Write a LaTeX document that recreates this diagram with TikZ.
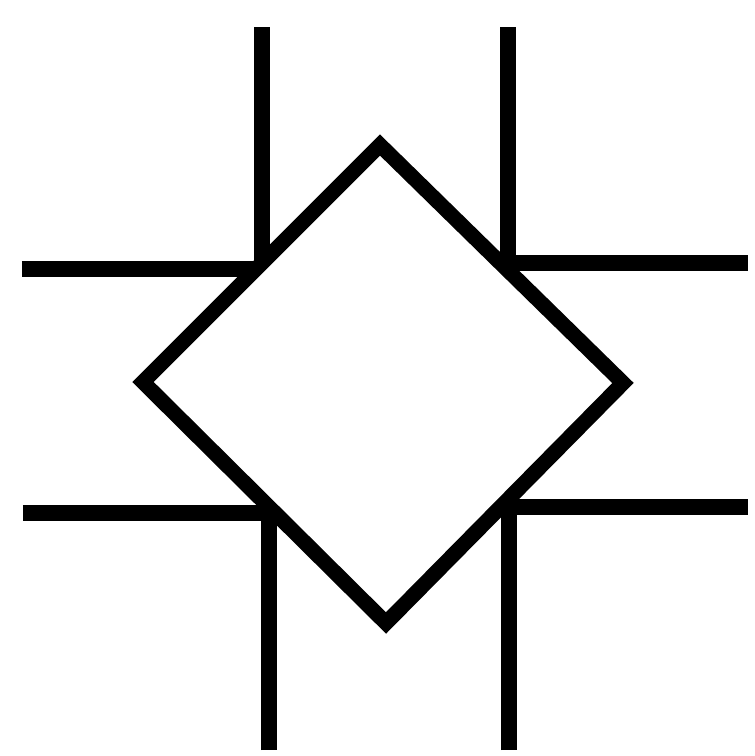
\documentclass[tikz,border=0pt]{standalone}
\usetikzlibrary{calc}
\begin{document}
\begin{tikzpicture}[x=0.01cm,y=-0.01cm, line width=4.3pt, line join=miter]
			\useasboundingbox (0,0) rectangle (755,756);
			% diamond corners
			\coordinate (T) at (380,145);
			\coordinate (R) at (623,383);
			\coordinate (B) at (386,623);
			\coordinate (L) at (143,382);
			% free ends of the leads
			\coordinate (a1) at (262,27);  \coordinate (a2) at (262,263);
			\coordinate (b1) at (22,269);  \coordinate (b2) at (256,269);
			\coordinate (c1) at (508,27);  \coordinate (c2) at (508,270);
			\coordinate (d1) at (748,263); \coordinate (d2) at (500,263);
			\coordinate (e1) at (23,513);  \coordinate (e2) at (275,513);
			\coordinate (f1) at (269,750); \coordinate (f2) at (269,507);
			\coordinate (g1) at (748,507); \coordinate (g2) at (501,507);
			\coordinate (h1) at (509,750); \coordinate (h2) at (509,499);
			\foreach \p in {a,b,c,d,e,f,g,h}{
				\draw (\p1)--(\p2);}
			\draw (T)--(R)--(B)--(L)--cycle;
		\end{tikzpicture}
\end{document}
